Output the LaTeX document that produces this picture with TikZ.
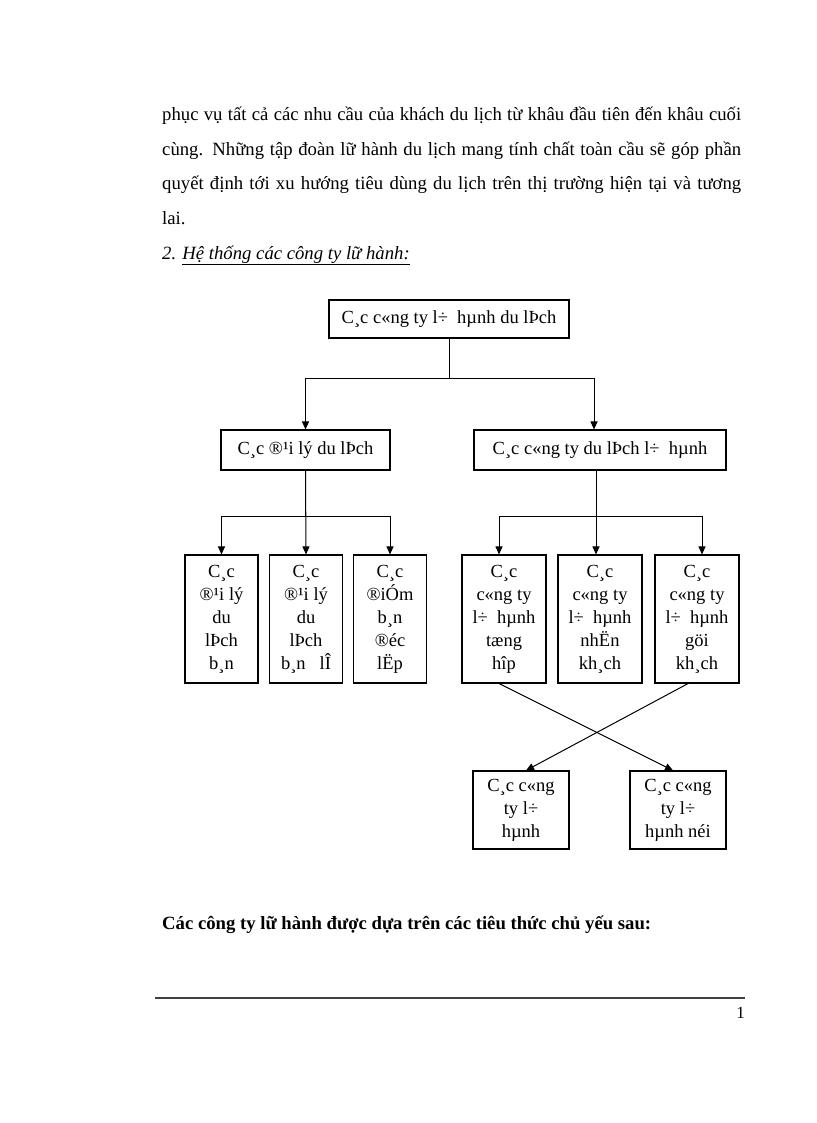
\documentclass[tikz,border=0pt]{standalone}
\usepackage{fontspec}
\setmainfont{Liberation Serif}
\usetikzlibrary{arrows.meta}
\newcommand\bodyfnt{\fontsize{18.7}{23}\selectfont}
\newcommand\boxfnt{\fontsize{18.5}{23}\selectfont}
\begin{document}
\begin{tikzpicture}[x=1pt,y=-1pt,
  box/.style={draw,line width=1.1pt,inner sep=0pt,align=center,font=\boxfnt},
  arr/.style={line width=1pt,-{Triangle[width=7pt,length=8pt]}},
  ln/.style={line width=1pt},
  txt/.style={anchor=base west,inner sep=0pt,font=\bodyfnt}]
\useasboundingbox (0,0) rectangle (816,1123);
\fill[white] (0,0) rectangle (816,1123);

% body text
\node[txt] (p1) at (162,121) {\makebox[579pt][s]{phục vụ tất cả các nhu cầu của khách du lịch từ khâu đầu tiên đến khâu cuối}};
\node[txt] (p2) at (162,155.5) {\makebox[579pt][s]{cùng. Những tập đoàn lữ hành du lịch mang tính chất toàn cầu sẽ góp phần}};
\node[txt] (p3) at (162,190) {\makebox[579pt][s]{quyết định tới xu hướng tiêu dùng du lịch trên thị trường hiện tại và tương}};
\node[txt] (p4) at (162,224.5) {lai.};
\node[txt] (h2) at (162,259) {\itshape 2. \underline{Hệ thống các công ty lữ hành:}};

% diagram boxes
\node[box,minimum width=240,minimum height=38] (top) at (449,319) {C¸c c«ng ty l÷~ hµnh du lÞch};
\node[box,minimum width=169,minimum height=40] (l2l) at (305.5,450) {C¸c ®¹i lý du lÞch};
\node[box,minimum width=252,minimum height=40] (l2r) at (600,450) {C¸c c«ng ty du lÞch l÷~ hµnh};

\node[box,minimum width=73,minimum height=128] (b1) at (221.5,619) {C¸c\\®¹i lý\\du\\lÞch\\b¸n};
\node[box,minimum width=73,minimum height=128] (b2) at (306,619) {C¸c\\®¹i lý\\du\\lÞch\\b¸n~~ lÎ};
\node[box,minimum width=73,minimum height=128] (b3) at (390,619) {C¸c\\®iÓm\\b¸n\\®éc\\lËp};
\node[box,minimum width=84,minimum height=128] (b4) at (504,619) {C¸c\\c«ng ty\\l÷~ hµnh\\tæng\\hîp};
\node[box,minimum width=84,minimum height=128] (b5) at (600,619) {C¸c\\c«ng ty\\l÷~ hµnh\\nhËn\\kh¸ch};
\node[box,minimum width=84,minimum height=128] (b6) at (697,619) {C¸c\\c«ng ty\\l÷~ hµnh\\göi\\kh¸ch};

\node[box,minimum width=96,minimum height=78] (lo1) at (521,810) {C¸c c«ng\\ty l÷\\hµnh};
\node[box,minimum width=96,minimum height=78] (lo2) at (678,810) {C¸c c«ng\\ty l÷\\hµnh néi};

% connectors
\draw[ln] (top.south) -- ++(0,40) coordinate (j1);
\draw[arr] (j1) -| (l2l.north);
\draw[arr] (j1) -| ([xshift=-6pt]l2r.north);

\draw[ln] (l2l.south) -- ++(0,46) coordinate (j2);
\draw[arr] (j2) -| (b1.north);
\draw[arr] (l2l.south) -- (b2.north);
\draw[arr] (j2) -| (b3.north);

\draw[ln] ([xshift=-4pt]l2r.south) -- ++(0,46) coordinate (j3);
\draw[arr] (j3) -| ([xshift=-5pt]b4.north);
\draw[arr] (j3) -- ([xshift=-4pt]b5.north);
\draw[arr] (j3) -| ([xshift=5pt]b6.north);

\draw[arr] ([xshift=-5pt]b4.south) -- ([xshift=-5pt]lo2.north);
\draw[arr] ([xshift=-9pt]b6.south) -- ([xshift=5pt]lo1.north);

% closing text and footer
\node[txt] (t2) at (162,929) {\bfseries Các công ty lữ hành được dựa trên các tiêu thức chủ yếu sau:};
\coordinate (r1) at (155,998);
\coordinate (r2) at (745,998);
\draw[line width=1.3pt,black!75] (r1) -- (r2);
\node[anchor=base east,inner sep=0pt,font=\fontsize{17}{20}\selectfont] (pg) at (745,1018) {1};
\end{tikzpicture}
\end{document}
